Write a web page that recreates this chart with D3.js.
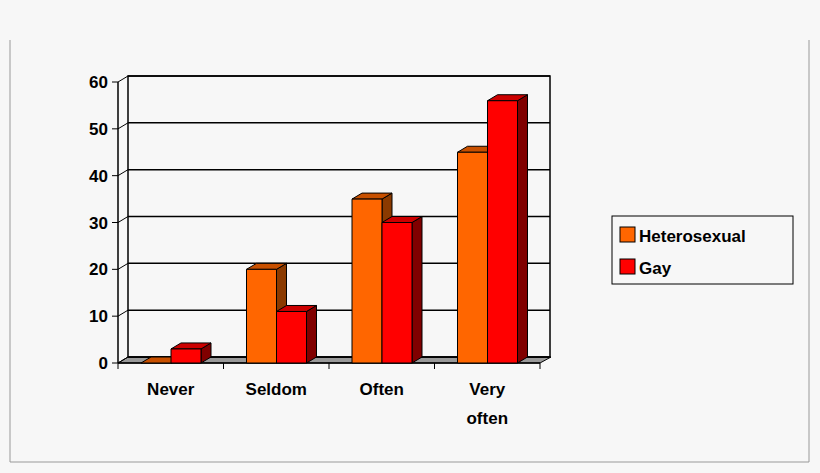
<!DOCTYPE html>
<html><head><meta charset="utf-8">
<script src="https://cdn.jsdelivr.net/npm/d3@7"></script>
<style>body{margin:0;background:#f7f7f7}</style>
</head><body>
<script>
// data
var categories = [["Never"], ["Seldom"], ["Often"], ["Very", "often"]];
var series = ["Heterosexual", "Gay"];
var hetero = [0, 20, 35, 45];
var gay = [3, 11, 30, 56];
var ticks = [0, 10, 20, 30, 40, 50, 60];

var colors = {front: ["#ff6600", "#ff0000"], top: ["#c85000", "#cc0000"], side: ["#8b3a00", "#800000"]};
var dx = 10, dy = -6;

var svg = d3.select("body").append("svg").attr("width", 820).attr("height", 473)
    .style("font-family", "Liberation Sans, Arial, sans-serif");

// outer frame
svg.append("path").attr("d", "M10,40V462H809V40").attr("fill", "none").attr("stroke", "#999");

var x = d3.scaleBand().domain(d3.range(4)).range([118, 540]);
var y = d3.scaleLinear().domain([0, 60]).range([363, 82]);

// floor
svg.append("path").attr("d", "M118,363L" + (118 + dx) + "," + (363 + dy) + "L" + (540 + dx + 1) + "," + (363 + dy) + "L540,363Z")
    .attr("fill", "#999").attr("stroke", "#000");
// back wall + grid
svg.append("rect").attr("x", 118 + dx).attr("y", y(60) + dy).attr("width", 422).attr("height", y(0) - y(60))
    .attr("fill", "none").attr("stroke", "#000").attr("stroke-width", 1.5);
ticks.forEach(function (t) {
    svg.append("line").attr("x1", 118 + dx).attr("x2", 540 + dx).attr("y1", y(t) + dy).attr("y2", y(t) + dy)
        .attr("stroke", "#000").attr("stroke-width", 1.5);
    svg.append("line").attr("x1", 118).attr("x2", 118 + dx).attr("y1", y(t)).attr("y2", y(t) + dy).attr("stroke", "#000");
    svg.append("line").attr("x1", 112).attr("x2", 118).attr("y1", y(t)).attr("y2", y(t)).attr("stroke", "#000");
    svg.append("text").attr("x", 108).attr("y", y(t) + 6).attr("text-anchor", "end")
        .attr("font-size", 17).attr("font-weight", "bold").text(t);
});
svg.append("line").attr("x1", 118).attr("x2", 118).attr("y1", y(60)).attr("y2", y(0)).attr("stroke", "#000").attr("stroke-width", 1.5);
svg.append("line").attr("x1", 118).attr("x2", 540).attr("y1", y(0)).attr("y2", y(0)).attr("stroke", "#000").attr("stroke-width", 1.5);
d3.range(5).forEach(function (i) {
    var xx = 118 + i * x.bandwidth();
    svg.append("line").attr("x1", xx).attr("x2", xx).attr("y1", y(0)).attr("y2", y(0) + 6).attr("stroke", "#000");
});

// bars
var bw = 30;
[hetero, gay].forEach(function (vals, s) {
    vals.forEach(function (v, i) {
        var x0 = x(i) + 23 + s * bw, x1 = x0 + bw, y0 = y(0), y1 = y(v);
        var g = svg.append("g").attr("stroke", "#000").attr("stroke-width", 1).attr("stroke-linejoin", "round");
        g.append("path").attr("d", "M" + x1 + "," + y0 + "L" + (x1 + dx) + "," + (y0 + dy) + "L" + (x1 + dx) + "," + (y1 + dy) + "L" + x1 + "," + y1 + "Z")
            .attr("fill", colors.side[s]);
        g.append("path").attr("d", "M" + x0 + "," + y1 + "L" + (x0 + dx) + "," + (y1 + dy) + "L" + (x1 + dx) + "," + (y1 + dy) + "L" + x1 + "," + y1 + "Z")
            .attr("fill", colors.top[s]);
        g.append("rect").attr("x", x0).attr("y", y1).attr("width", bw).attr("height", y0 - y1).attr("fill", colors.front[s]);
    });
});

// category labels
categories.forEach(function (c, i) {
    var t = svg.append("text").attr("x", x(i) + x.bandwidth() / 2).attr("y", 395)
        .attr("text-anchor", "middle").attr("font-size", 17).attr("font-weight", "bold");
    c.forEach(function (line, k) {
        t.append("tspan").attr("x", x(i) + x.bandwidth() / 2).attr("dy", k ? 29 : 0).text(line);
    });
});

// legend
svg.append("rect").attr("x", 612).attr("y", 216).attr("width", 181).attr("height", 68)
    .attr("fill", "none").attr("stroke", "#000");
series.forEach(function (name, s) {
    svg.append("rect").attr("x", 620).attr("y", 227 + s * 32).attr("width", 15).attr("height", 15)
        .attr("fill", colors.front[s]).attr("stroke", "#000");
    svg.append("text").attr("x", 639).attr("y", 242 + s * 32).attr("font-size", 17).attr("font-weight", "bold").text(name);
});
</script>
</body></html>
